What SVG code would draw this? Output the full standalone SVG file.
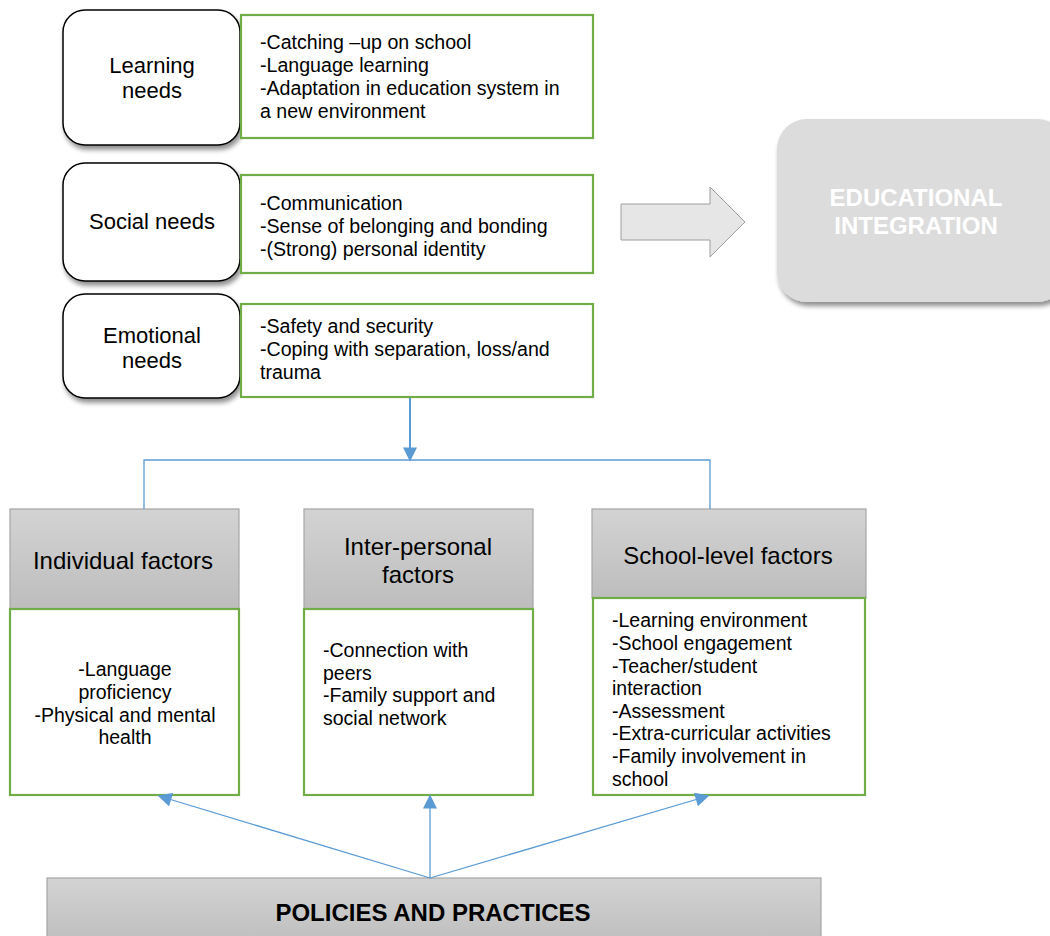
<svg xmlns="http://www.w3.org/2000/svg" width="1050" height="936" viewBox="0 0 1050 936">
  <defs>
    <linearGradient id="grayGrad" x1="0" y1="0" x2="0" y2="1">
      <stop offset="0" stop-color="#d3d3d3"/>
      <stop offset="1" stop-color="#bdbdbd"/>
    </linearGradient>
    <filter id="shadow" x="-10%" y="-10%" width="125%" height="130%">
      <feGaussianBlur in="SourceAlpha" stdDeviation="2.5"/>
      <feOffset dx="2" dy="4" result="b"/>
      <feComponentTransfer><feFuncA type="linear" slope="0.45"/></feComponentTransfer>
      <feMerge><feMergeNode/><feMergeNode in="SourceGraphic"/></feMerge>
    </filter>
    <marker id="arrowBig" viewBox="0 0 10 10" refX="9" refY="5" markerWidth="16" markerHeight="14" markerUnits="userSpaceOnUse" orient="auto">
      <path d="M0,0 L10,5 L0,10 Z" fill="#5b9bd5"/>
    </marker>
  </defs>
  <style>
    text { font-family: "Liberation Sans", Arial, sans-serif; fill: #000; }
    .need { fill: #fff; stroke: #000; stroke-width: 1.5; }
    .green { fill: #fff; stroke: #70ad47; stroke-width: 2.2; }
    .hdr { fill: url(#grayGrad); stroke: #a5a5a5; stroke-width: 1.2; }
    .title { font-size: 22px; text-anchor: middle; }
    .item { font-size: 19.6px; }
    .fhead { font-size: 24px; text-anchor: middle; }
    .fitem { font-size: 19.5px; }
    .conn { fill: none; stroke: #5b9bd5; stroke-width: 1.3; }
  </style>

  <rect width="1050" height="936" fill="#fff"/>

  <!-- needs column -->
  <g id="learning-needs">
    <rect class="need" x="63" y="10" width="177" height="135" rx="22" filter="url(#shadow)"/>
    <text class="title" x="152" y="73">Learning</text>
    <text class="title" x="152" y="98">needs</text>
  </g>
  <g id="learning-items">
    <rect class="green" x="241" y="15" width="352" height="123"/>
    <text class="item" x="260" y="49">-Catching –up on school</text>
    <text class="item" x="260" y="72">-Language learning</text>
    <text class="item" x="260" y="95">-Adaptation in education system in</text>
    <text class="item" x="260" y="118">a new environment</text>
  </g>

  <g id="social-needs">
    <rect class="need" x="63" y="163" width="177" height="118" rx="22" filter="url(#shadow)"/>
    <text class="title" x="152" y="229">Social needs</text>
  </g>
  <g id="social-items">
    <rect class="green" x="241" y="175" width="352" height="98"/>
    <text class="item" x="260" y="210">-Communication</text>
    <text class="item" x="260" y="233">-Sense of belonging and bonding</text>
    <text class="item" x="260" y="256">-(Strong) personal identity</text>
  </g>

  <g id="emotional-needs">
    <rect class="need" x="63" y="294" width="177" height="104" rx="22" filter="url(#shadow)"/>
    <text class="title" x="152" y="343">Emotional</text>
    <text class="title" x="152" y="368">needs</text>
  </g>
  <g id="emotional-items">
    <rect class="green" x="241" y="304" width="352" height="93"/>
    <text class="item" x="260" y="333">-Safety and security</text>
    <text class="item" x="260" y="356">-Coping with separation, loss/and</text>
    <text class="item" x="260" y="379">trauma</text>
  </g>

  <!-- block arrow towards the outcome -->
  <g id="block-arrow">
    <path d="M621,204 L710,204 L710,187 L745,222 L710,257 L710,240 L621,240 Z" fill="#e6e6e6" stroke="#9e9e9e" stroke-width="1"/>
  </g>

  <g id="educational-integration">
    <rect x="777" y="119" width="290" height="183" rx="30" fill="#dcdcdc" filter="url(#shadow)"/>
    <text x="916" y="206" font-size="24" font-weight="bold" text-anchor="middle" style="fill:#fff">EDUCATIONAL</text>
    <text x="916" y="234" font-size="24" font-weight="bold" text-anchor="middle" style="fill:#fff">INTEGRATION</text>
  </g>

  <!-- factor columns -->
  <g id="individual-factors">
    <rect class="hdr" x="10" y="509" width="229" height="100"/>
    <text class="fhead" x="123" y="569">Individual factors</text>
    <rect class="green" x="10" y="609" width="229" height="186"/>
    <text class="fitem" x="125" y="676" text-anchor="middle">-Language</text>
    <text class="fitem" x="125" y="699" text-anchor="middle">proficiency</text>
    <text class="fitem" x="125" y="722" text-anchor="middle">-Physical and mental</text>
    <text class="fitem" x="125" y="744" text-anchor="middle">health</text>
  </g>

  <g id="interpersonal-factors">
    <rect class="hdr" x="304" y="509" width="229" height="100"/>
    <text class="fhead" x="418" y="555">Inter-personal</text>
    <text class="fhead" x="418" y="583">factors</text>
    <rect class="green" x="304" y="609" width="229" height="186"/>
    <text class="fitem" x="323" y="657">-Connection with</text>
    <text class="fitem" x="323" y="680">peers</text>
    <text class="fitem" x="323" y="702">-Family support and</text>
    <text class="fitem" x="323" y="725">social network</text>
  </g>

  <g id="school-factors">
    <rect class="hdr" x="592" y="509" width="274" height="89"/>
    <text class="fhead" x="728" y="564">School-level factors</text>
    <rect class="green" x="593" y="598" width="272" height="197"/>
    <text class="fitem" x="612" y="627">-Learning environment</text>
    <text class="fitem" x="612" y="650">-School engagement</text>
    <text class="fitem" x="612" y="673">-Teacher/student</text>
    <text class="fitem" x="612" y="695">interaction</text>
    <text class="fitem" x="612" y="718">-Assessment</text>
    <text class="fitem" x="612" y="740">-Extra-curricular activities</text>
    <text class="fitem" x="612" y="763">-Family involvement in</text>
    <text class="fitem" x="612" y="786">school</text>
  </g>

  <g id="policies-and-practices">
    <rect class="hdr" x="47" y="878" width="774" height="70"/>
    <text x="433" y="921" font-size="24" font-weight="bold" text-anchor="middle">POLICIES AND PRACTICES</text>
  </g>

  <!-- connectors -->
  <g id="connectors">
    <line class="conn" x1="410" y1="398" x2="410" y2="460" marker-end="url(#arrowBig)" style="stroke-width:2"/>
    <polyline class="conn" points="144,509 144,460 710,460 710,509"/>
    <line class="conn" x1="430" y1="878" x2="159" y2="796" marker-end="url(#arrowBig)"/>
    <line class="conn" x1="430" y1="878" x2="430" y2="796" marker-end="url(#arrowBig)"/>
    <line class="conn" x1="430" y1="878" x2="708" y2="796" marker-end="url(#arrowBig)"/>
  </g>
</svg>
